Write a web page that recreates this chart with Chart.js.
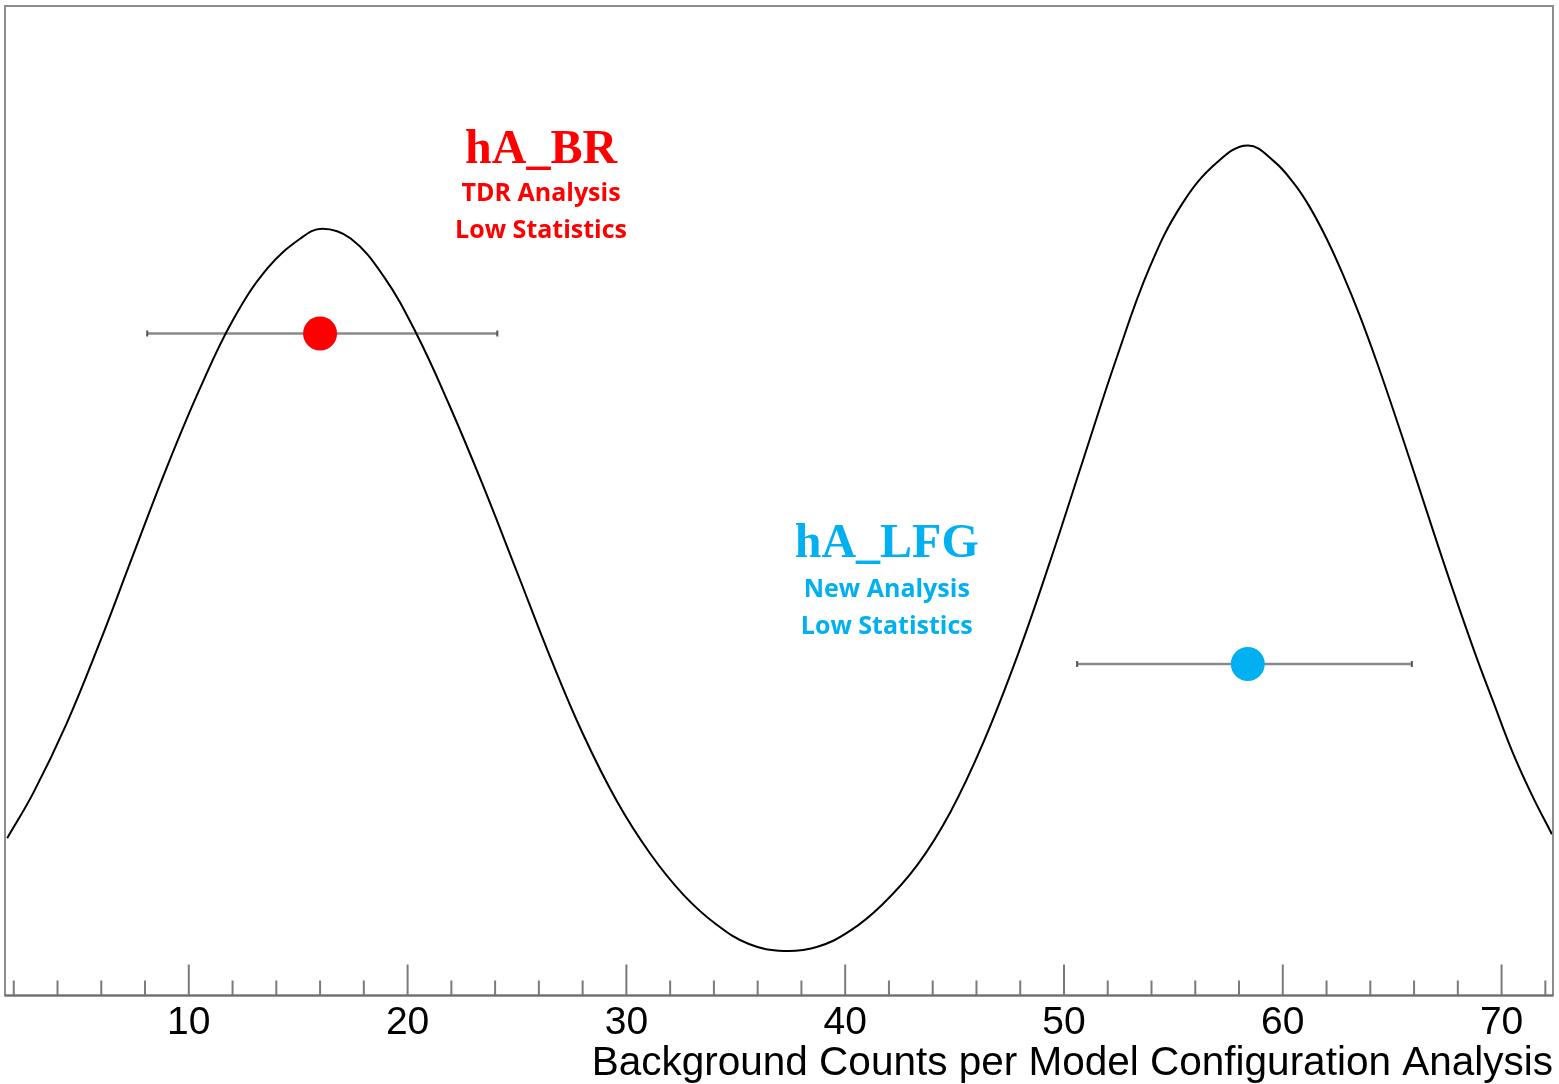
<!DOCTYPE html>
<html>
<head>
<meta charset="utf-8">
<script src="https://cdn.jsdelivr.net/npm/chart.js@4"></script>
<style>
  body { margin: 0; background: #fff; }
  #wrap { width: 1559px; height: 1084px; }
</style>
</head>
<body>
<div id="wrap"><canvas id="chart" width="1559" height="1084"></canvas></div>
<script>
// curve (x = counts, y = arbitrary height)
const curveX = [1.7, 2.9, 4.4, 5.9, 7.4, 9.0, 10.5, 12.0, 13.6, 15.1, 16.1, 17.4, 18.9, 20.4, 21.9, 23.4, 25.0, 26.5, 28.0, 29.6, 31.1, 32.6, 34.1, 35.6, 37.2, 38.7, 40.2, 41.7, 43.3, 44.8, 46.3, 47.9, 49.4, 50.9, 52.4, 53.9, 55.4, 57.0, 58.4, 59.6, 60.5, 61.2, 62.0, 62.8, 63.5, 64.3, 65.0, 65.8, 66.6, 67.3, 68.1, 68.9, 69.6, 70.5, 71.4, 72.3];
const curveY = [15.9, 20.5, 27.4, 35.5, 44.2, 53.4, 61.3, 68.2, 73.5, 76.5, 77.5, 76.5, 72.7, 66.9, 59.7, 51.8, 42.8, 34.3, 26.5, 19.5, 14.3, 10.2, 7.2, 5.2, 4.5, 4.9, 6.5, 9.2, 13.2, 18.5, 25.5, 34.5, 44.1, 54.3, 64.4, 73.5, 80.0, 84.2, 85.9, 84.3, 82.1, 79.8, 76.5, 72.6, 68.8, 64.0, 59.5, 54.2, 48.8, 44.1, 38.9, 33.9, 29.8, 24.6, 20.2, 16.3];

// measurements with horizontal errors
const pointNames = ['hA_BR', 'hA_LFG'];
const pointSub1 = ['TDR Analysis', 'New Analysis'];
const pointSub2 = ['Low Statistics', 'Low Statistics'];
const pointX = [16.0, 58.4];
const pointY = [66.9, 33.5];
const errLow = [8.1, 50.6];
const errHigh = [24.1, 65.9];
const pointColors = ['#ff0000', '#00b0f0'];

const tickLabels = [10, 20, 30, 40, 50, 60, 70];
const xMin = 1.6, xMax = 72.35;

// where the text blocks sit (data coords) and the line offsets in px
const labelAnchors = [[26.1, 85.35], [41.9, 45.6]];
const labelOffsets = [[43, 80], [46, 83]];

const datasets = [];
pointX.forEach((x, i) => {
  datasets.push({
    label: pointNames[i],
    data: [{ x: x, y: pointY[i] }],
    backgroundColor: pointColors[i],
    borderWidth: 0,
    pointRadius: 17,
    pointHoverRadius: 17,
    showLine: false,
    order: 0
  });
});
datasets.push({
  label: 'curve',
  data: curveX.map((x, i) => ({ x: x, y: curveY[i] })),
  borderColor: '#000',
  borderWidth: 2,
  pointRadius: 0,
  showLine: true,
  fill: false,
  tension: 0.4,
  order: 1
});
pointX.forEach((x, i) => {
  datasets.push({
    label: pointNames[i] + ' err',
    data: [{ x: errLow[i], y: pointY[i] }, { x: errHigh[i], y: pointY[i] }],
    borderColor: '#8a8a8a',
    borderWidth: 2.5,
    showLine: true,
    pointStyle: 'line',
    rotation: 90,
    pointRadius: 3,
    pointBorderColor: '#555',
    pointBorderWidth: 2,
    order: 2
  });
});

const frameAndTicks = {
  id: 'frameAndTicks',
  afterDatasetsDraw(chart) {
    const { ctx, chartArea: a, scales } = chart;
    const xs = scales.x;
    ctx.save();
    ctx.strokeStyle = '#7a7a7a';
    ctx.lineWidth = 2;
    xs.ticks.forEach(t => {
      const px = xs.getPixelForValue(t.value);
      const len = tickLabels.includes(t.value) ? 31 : 15;
      ctx.beginPath();
      ctx.moveTo(px, a.bottom);
      ctx.lineTo(px, a.bottom - len);
      ctx.stroke();
    });
    ctx.strokeStyle = '#8c8c8c';
    ctx.strokeRect(a.left, a.top, a.right - a.left, a.bottom - a.top);
    ctx.strokeStyle = '#6e6e6e';
    ctx.beginPath();
    ctx.moveTo(a.left, a.bottom);
    ctx.lineTo(a.right, a.bottom);
    ctx.stroke();

    // text blocks
    ctx.textAlign = 'center';
    ctx.textBaseline = 'middle';
    labelAnchors.forEach((p, i) => {
      const cx = xs.getPixelForValue(p[0]);
      const cy = scales.y.getPixelForValue(p[1]);
      ctx.fillStyle = pointColors[i];
      ctx.font = 'bold 48px "Liberation Serif"';
      ctx.fillText(pointNames[i], cx, cy);
      ctx.font = 'bold 25px "Open Sans"';
      ctx.fillText(pointSub1[i], cx, cy + labelOffsets[i][0]);
      ctx.fillText(pointSub2[i], cx, cy + labelOffsets[i][1]);
    });
    ctx.restore();
  }
};

new Chart(document.getElementById('chart'), {
  type: 'scatter',
  data: { datasets: datasets },
  options: {
    responsive: false,
    animation: false,
    layout: { autoPadding: false, padding: { left: 5, right: 6, top: 6, bottom: 0 } },
    plugins: {
      legend: { display: false },
      tooltip: { enabled: false }
    },
    scales: {
      x: {
        type: 'linear',
        min: xMin,
        max: xMax,
        grid: { display: false, drawTicks: false },
        border: { display: false },
        ticks: {
          stepSize: 2,
          includeBounds: false,
          autoSkip: false,
          maxRotation: 0,
          padding: 8,
          color: '#000',
          font: { family: '"Liberation Sans", Arial, sans-serif', size: 39, lineHeight: 1 },
          callback: v => tickLabels.includes(v) ? String(v) : ''
        },
        title: {
          display: true,
          text: 'Background Counts per Model Configuration Analysis',
          align: 'end',
          color: '#000',
          padding: { top: -7, bottom: 0 },
          font: { family: '"Liberation Sans", Arial, sans-serif', size: 40.5, lineHeight: 1 }
        }
      },
      y: {
        display: false,
        min: 0,
        max: 100
      }
    }
  },
  plugins: [frameAndTicks]
});
</script>
</body>
</html>
